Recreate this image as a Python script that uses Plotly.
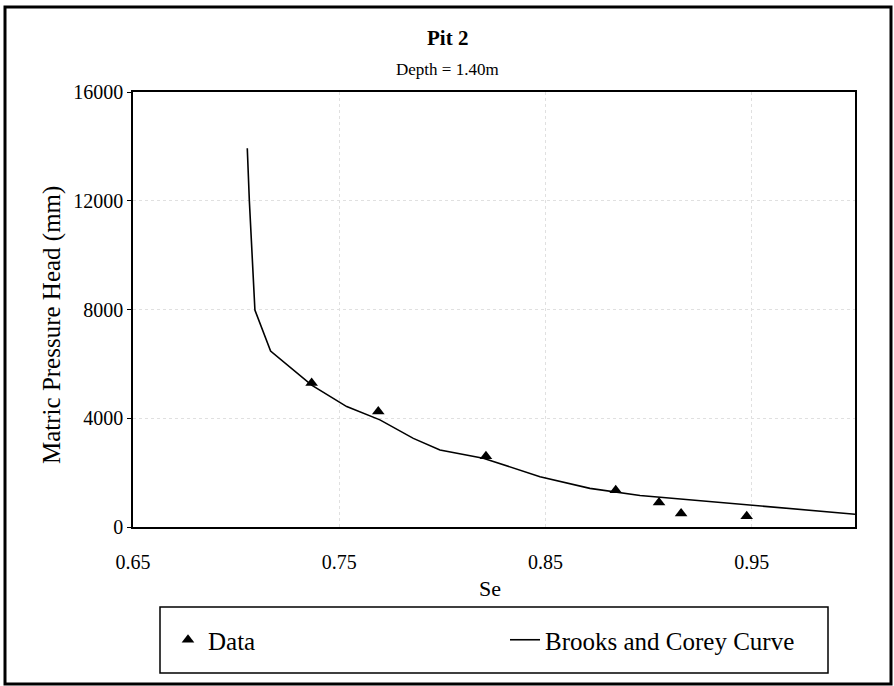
import plotly.graph_objects as go

# Measured data (triangles)
data_se = [0.7366, 0.7689, 0.8211, 0.884, 0.905, 0.9157, 0.9475]
data_h = [5300, 4250, 2600, 1350, 900, 500, 400]

# Brooks and Corey curve
curve_se = [0.7054, 0.7064, 0.7091, 0.7167, 0.7366, 0.7536, 0.7697, 0.7859,
            0.7988, 0.8198, 0.8473, 0.8715, 0.8958, 0.9475, 1.0]
curve_h = [13930, 12000, 7980, 6470, 5220, 4430, 3940, 3260,
           2830, 2530, 1850, 1420, 1160, 810, 470]

x_ticks = [0.65, 0.75, 0.85, 0.95]
x_tick_labels = ["0.65", "0.75", "0.85", "0.95"]
y_ticks = [0, 4000, 8000, 12000, 16000]
y_tick_labels = ["0", "4000", "8000", "12000", "16000"]

SERIF = "Liberation Serif, Times New Roman, serif"

W, H = 894, 686
L, R, T, B = 133, 855, 92, 527
pw, ph = R - L, B - T


def px(x):
    return (x - L) / pw


def py(y):
    return (B - y) / ph


fig = go.Figure()
fig.add_trace(go.Scatter(
    x=data_se, y=data_h, mode="markers", name="Data",
    marker=dict(symbol="triangle-up", size=11, color="black"),
))
fig.add_trace(go.Scatter(
    x=curve_se, y=curve_h, mode="lines", name="Brooks and Corey Curve",
    line=dict(color="black", width=1.6),
))


def note(text, x, y, size, angle=0):
    return dict(text=text, x=px(x), y=py(y), xref="paper", yref="paper",
                xanchor="center", yanchor="middle", showarrow=False,
                textangle=angle, font=dict(size=size))


fig.update_layout(
    width=W, height=H,
    margin=dict(l=L, r=W - R, t=T, b=H - B),
    paper_bgcolor="white", plot_bgcolor="white",
    font=dict(family=SERIF, color="black", size=20),
    showlegend=True,
    legend=dict(
        orientation="h", x=px(168), xanchor="left", y=py(640), yanchor="middle",
        bgcolor="rgba(0,0,0,0)", borderwidth=0,
        font=dict(family=SERIF, size=25, color="black"),
        entrywidth=292, entrywidthmode="pixels",
    ),
    xaxis=dict(
        range=[0.65, 1.0], tickvals=x_ticks, ticktext=x_tick_labels,
        showline=True, linecolor="black", linewidth=1.5, mirror=True,
        ticks="outside", ticklen=16, tickcolor="rgba(0,0,0,0)",
        showgrid=True, gridcolor="#e0e0e0", griddash="dot", gridwidth=1,
        zeroline=False, tickfont=dict(size=20),
    ),
    yaxis=dict(
        range=[0, 16000], tickvals=y_ticks, ticktext=y_tick_labels,
        showline=True, linecolor="black", linewidth=1.5, mirror=True,
        ticks="outside", ticklen=4, tickcolor="black",
        showgrid=True, gridcolor="#e0e0e0", griddash="dot", gridwidth=1,
        zeroline=False, tickfont=dict(size=20),
    ),
    annotations=[
        note("<b>Pit 2</b>", 447, 38, 21),
        note("Depth = 1.40m", 447, 70, 17),
        note("Matric Pressure Head (mm)", 52, 325, 25, -90),
        note("Se", 490, 588, 22),
    ],
    shapes=[
        dict(type="rect", xref="paper", yref="paper",
             x0=px(5), x1=px(891), y0=py(684), y1=py(7),
             line=dict(color="black", width=3)),
        dict(type="rect", xref="paper", yref="paper",
             x0=px(160), x1=px(828), y0=py(673), y1=py(607),
             line=dict(color="black", width=1.5)),
    ],
)

fig.write_html("out.html")
